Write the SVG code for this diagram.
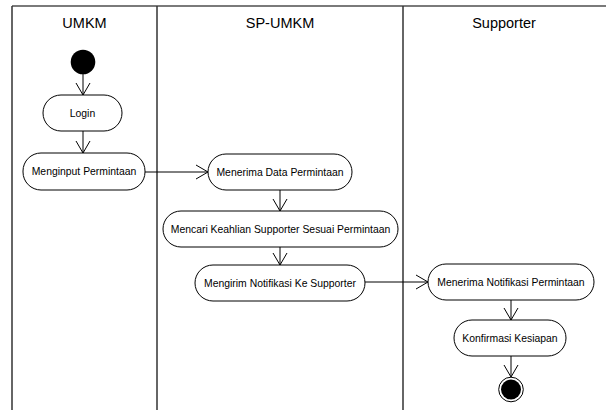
<svg xmlns="http://www.w3.org/2000/svg" width="606" height="410" viewBox="0 0 606 410">
<defs>
<marker id="arr" viewBox="0 0 14 16" refX="13" refY="8" markerWidth="14" markerHeight="16" markerUnits="userSpaceOnUse" orient="auto">
<path d="M1,1 L13,8 L1,15" fill="none" stroke="#000" stroke-width="1"/>
</marker>
<style>
.lane{stroke:#333;stroke-width:1.5;fill:none}
.top{stroke:#7a7a7a;stroke-width:2}
.hdr{font-family:"Liberation Sans",Arial,sans-serif;font-size:14.5px;fill:#000;text-anchor:middle}
.box{fill:#fff;stroke:#000;stroke-width:1}
.lbl{font-family:"Liberation Sans",Arial,sans-serif;font-size:10.4px;fill:#000;text-anchor:middle}
.edge{stroke:#000;stroke-width:1;fill:none;marker-end:url(#arr)}
</style>
</defs>
<rect width="606" height="410" fill="#fff"/>
<g id="lanes">
<line class="top" x1="12" y1="6" x2="606" y2="6"/>
<line class="lane" x1="12" y1="6" x2="12" y2="410"/>
<line class="lane" x1="157" y1="6" x2="157" y2="410"/>
<line class="lane" x1="403" y1="6" x2="403" y2="410"/>
<text class="hdr" x="84.5" y="28">UMKM</text>
<text class="hdr" x="280" y="28">SP-UMKM</text>
<text class="hdr" x="504" y="28">Supporter</text>
</g>
<g id="connectors">
<line class="edge" x1="83" y1="74" x2="83" y2="95"/>
<line class="edge" x1="83" y1="131" x2="83" y2="153"/>
<line class="edge" x1="145" y1="172" x2="208" y2="172"/>
<line class="edge" x1="280" y1="190" x2="280" y2="211"/>
<line class="edge" x1="280" y1="247" x2="280" y2="265"/>
<line class="edge" x1="365" y1="282" x2="428" y2="282"/>
<line class="edge" x1="511" y1="300" x2="511" y2="320"/>
<line class="edge" x1="511" y1="356" x2="511" y2="377"/>
</g>
<g id="start"><circle cx="83" cy="62" r="12.3" fill="#000"/></g>
<g id="login"><rect class="box" x="43" y="95" width="79" height="36" rx="18"/><text class="lbl" x="82.5" y="116.5">Login</text></g>
<g id="menginput"><rect class="box" x="23" y="153" width="122" height="37" rx="18"/><text class="lbl" x="84" y="175">Menginput Permintaan</text></g>
<g id="menerima-data"><rect class="box" x="208" y="154" width="144" height="36" rx="18"/><text class="lbl" x="280" y="175.5">Menerima Data Permintaan</text></g>
<g id="mencari"><rect class="box" x="163" y="211" width="235" height="36" rx="18"/><text class="lbl" x="280.5" y="232.5">Mencari Keahlian Supporter Sesuai Permintaan</text></g>
<g id="mengirim"><rect class="box" x="195" y="265" width="170" height="36" rx="18"/><text class="lbl" x="280" y="286.5">Mengirim Notifikasi Ke Supporter</text></g>
<g id="menerima-notif"><rect class="box" x="428" y="264" width="166" height="36" rx="18"/><text class="lbl" x="511" y="285.5">Menerima Notifikasi Permintaan</text></g>
<g id="konfirmasi"><rect class="box" x="454" y="320" width="112" height="36" rx="18"/><text class="lbl" x="510" y="341.5">Konfirmasi Kesiapan</text></g>
<g id="end"><circle cx="511" cy="389.5" r="12.3" fill="#fff" stroke="#000" stroke-width="1"/><circle cx="511" cy="389.5" r="10" fill="#000"/></g>
</svg>
